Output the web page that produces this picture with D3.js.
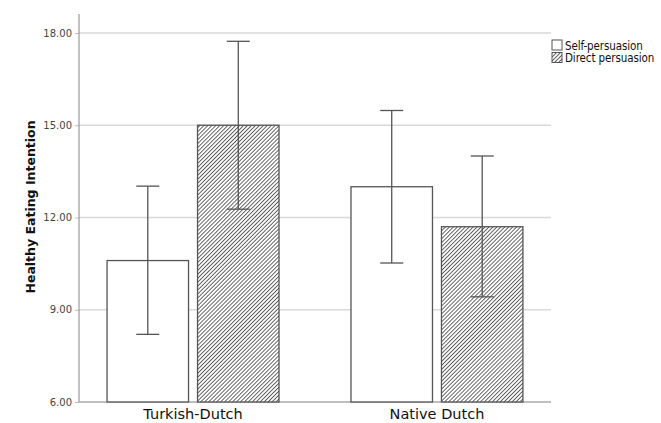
<!DOCTYPE html>
<html>
<head>
<meta charset="utf-8">
<script src="https://cdn.jsdelivr.net/npm/d3@7"></script>
<style>
  body { margin: 0; background: #fff; }
  text { font-family: "DejaVu Sans", Verdana, sans-serif; }
</style>
</head>
<body>
<div id="chart"></div>
<script>
// data
var groups = ["Turkish-Dutch", "Native Dutch"];
var conditions = ["Self-persuasion", "Direct persuasion"];
var means = [[10.6, 15.0], [13.0, 11.7]];
var lower = [[8.2, 12.27], [10.52, 9.42]];
var upper = [[13.02, 17.73], [15.48, 14.0]];
var yTicks = [6, 9, 12, 15, 18];

var width = 661, height = 423;
var margin = {top: 33, left: 79, right: 110, bottom: 21};

var svg = d3.select("#chart").append("svg")
    .attr("width", width)
    .attr("height", height);

// hatch pattern for direct persuasion
var defs = svg.append("defs");
var pat = defs.append("pattern")
    .attr("id", "hatch")
    .attr("patternUnits", "userSpaceOnUse")
    .attr("width", 2.8)
    .attr("height", 2.8)
    .attr("patternTransform", "rotate(45)");
pat.append("rect").attr("width", 2.8).attr("height", 2.8).attr("fill", "#fff");
pat.append("line")
    .attr("x1", 0).attr("y1", 0).attr("x2", 0).attr("y2", 2.8)
    .attr("stroke", "#555").attr("stroke-width", 1.8);

var x0 = d3.scaleBand()
    .domain(groups)
    .range([margin.left, width - margin.right])
    .paddingInner(0.295)
    .paddingOuter(0.115);

var x1 = d3.scaleBand()
    .domain(conditions)
    .range([0, x0.bandwidth()])
    .paddingInner(0.0995);

var y = d3.scaleLinear()
    .domain([6, 18])
    .range([height - margin.bottom, margin.top]);

// grid lines
svg.append("g")
    .selectAll("line")
    .data(yTicks.slice(1))
    .enter().append("line")
    .attr("x1", margin.left).attr("x2", width - margin.right)
    .attr("y1", d => y(d)).attr("y2", d => y(d))
    .attr("stroke", "#d9d9d9")
    .attr("stroke-width", 1.5);

// y axis
var yAxis = svg.append("g")
    .attr("transform", "translate(" + margin.left + ",0)")
    .call(d3.axisLeft(y).tickValues(yTicks).tickFormat(d3.format(".2f")).tickSize(4).tickPadding(3));
yAxis.select(".domain").remove();
yAxis.selectAll(".tick line").attr("stroke", "#bbb");
yAxis.selectAll(".tick text")
    .attr("fill", "#444")
    .style("font-size", "10px");

svg.append("line")
    .attr("x1", margin.left).attr("x2", margin.left)
    .attr("y1", y(18.62)).attr("y2", y(6))
    .attr("stroke", "#999").attr("stroke-width", 1.2);

// baseline
svg.append("line")
    .attr("x1", margin.left).attr("x2", width - margin.right)
    .attr("y1", y(6)).attr("y2", y(6))
    .attr("stroke", "#aaa").attr("stroke-width", 1.5);

// bars
var groupG = svg.selectAll("g.grp")
    .data(groups)
    .enter().append("g")
    .attr("class", "grp")
    .attr("transform", d => "translate(" + x0(d) + ",0)");

groupG.selectAll("rect")
    .data((d, gi) => conditions.map((c, ci) => ({c: c, m: means[gi][ci]})))
    .enter().append("rect")
    .attr("x", d => x1(d.c))
    .attr("y", d => y(d.m))
    .attr("width", x1.bandwidth())
    .attr("height", d => y(6) - y(d.m))
    .attr("fill", (d, i) => i === 0 ? "#fff" : "url(#hatch)")
    .attr("stroke", "#555")
    .attr("stroke-width", 1.3);

// error bars
var capW = 23;
var err = groupG.selectAll("g.err")
    .data((d, gi) => conditions.map((c, ci) => ({c: c, lo: lower[gi][ci], hi: upper[gi][ci]})))
    .enter().append("g")
    .attr("class", "err")
    .attr("transform", d => "translate(" + (x1(d.c) + x1.bandwidth() / 2) + ",0)")
    .attr("stroke", "#555")
    .attr("stroke-width", 1.3);
err.append("line")
    .attr("x1", 0).attr("x2", 0)
    .attr("y1", d => y(d.lo)).attr("y2", d => y(d.hi));
err.append("line")
    .attr("x1", -capW / 2).attr("x2", capW / 2)
    .attr("y1", d => y(d.hi)).attr("y2", d => y(d.hi));
err.append("line")
    .attr("x1", -capW / 2).attr("x2", capW / 2)
    .attr("y1", d => y(d.lo)).attr("y2", d => y(d.lo));

// category labels
svg.selectAll("text.cat")
    .data(groups)
    .enter().append("text")
    .attr("class", "cat")
    .attr("x", d => x0(d) + x0.bandwidth() / 2)
    .attr("y", 419)
    .attr("text-anchor", "middle")
    .attr("fill", "#111")
    .style("font-size", "14.5px")
    .text(d => d);

// y title
svg.append("text")
    .attr("transform", "translate(35,207) rotate(-90)")
    .attr("text-anchor", "middle")
    .attr("fill", "#111")
    .style("font-size", "12.5px")
    .style("font-weight", "bold")
    .text("Healthy Eating Intention");

// legend
var legend = svg.append("g").attr("transform", "translate(552,40)");
var li = legend.selectAll("g")
    .data(conditions)
    .enter().append("g")
    .attr("transform", (d, i) => "translate(0," + (i * 12.5) + ")");
li.append("rect")
    .attr("width", 10).attr("height", 10)
    .attr("fill", (d, i) => i === 0 ? "#fff" : "url(#hatch)")
    .attr("stroke", "#555")
    .attr("stroke-width", 1);
li.append("text")
    .attr("x", 13)
    .attr("y", 9.5)
    .attr("fill", "#111")
    .style("font-family", "'DejaVu Sans Condensed', 'DejaVu Sans', sans-serif")
    .style("font-size", "11.5px")
    .style("letter-spacing", "-0.1px")
    .text(d => d);
</script>
</body>
</html>
